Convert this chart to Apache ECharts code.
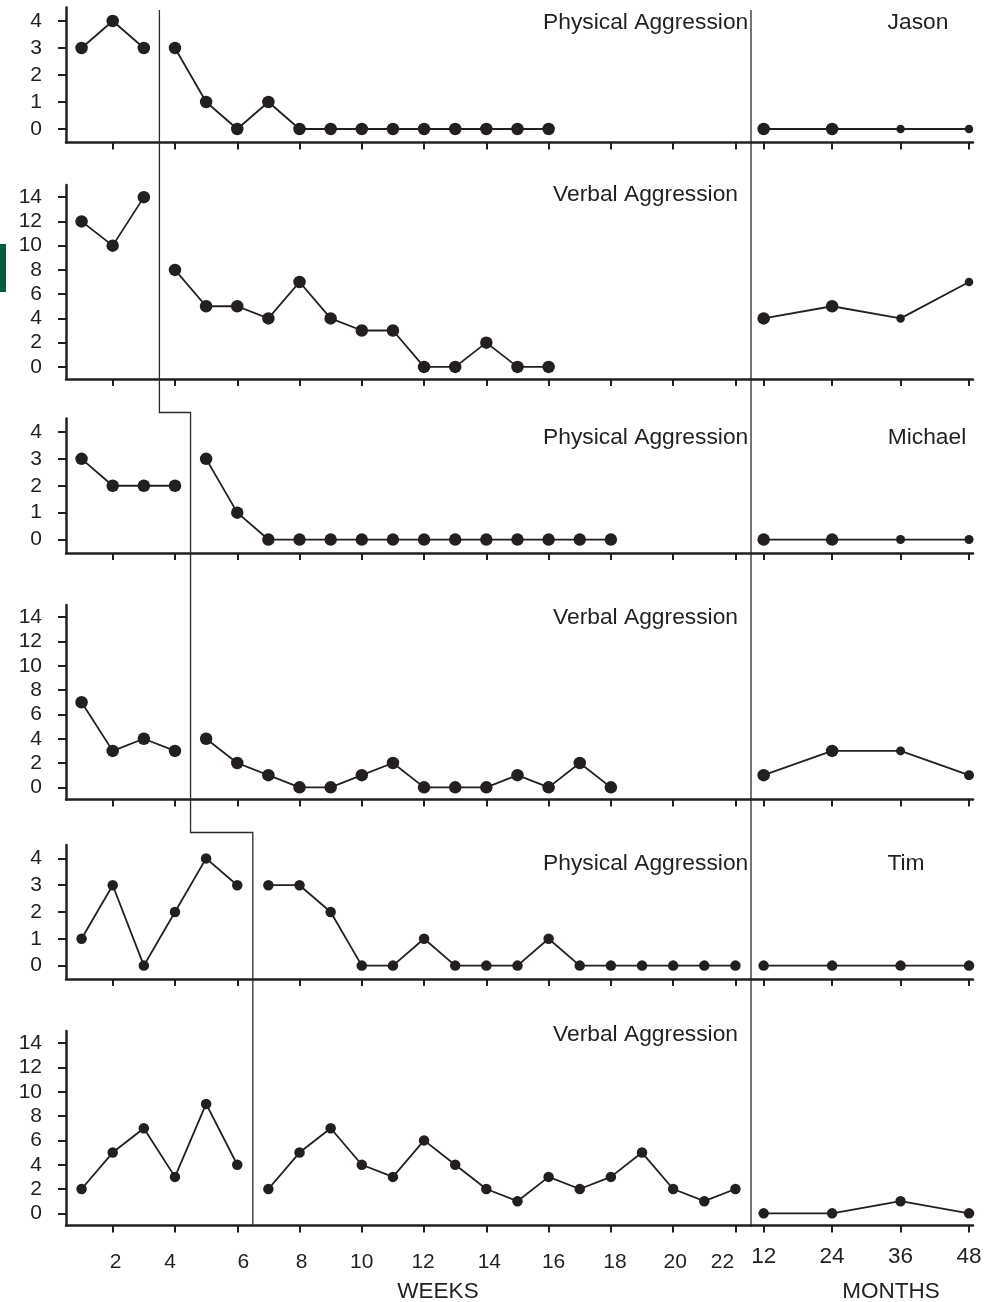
<!DOCTYPE html>
<html><head><meta charset="utf-8">
<script src="https://cdn.jsdelivr.net/npm/echarts@6/dist/echarts.min.js"></script>
<style>html,body{margin:0;padding:0;background:#fff}#c{width:986px;height:1302px}</style>
</head><body><div id="c"></div>
<script>
// ---------------- data ----------------
const weekTicks = [2, 4, 6, 8, 10, 12, 14, 16, 18, 20, 22];
const monthTicks = [12, 24, 36, 48];
const followMonths = [12, 24, 36, 48];
const physTicks = [0, 1, 2, 3, 4];
const verbTicks = [0, 2, 4, 6, 8, 10, 12, 14];
const panelTitles = ['Physical Aggression', 'Verbal Aggression'];
const participants = ['Jason', 'Michael', 'Tim'];
const treatStartWeek = [4, 5, 7]; // first treatment week for Jason, Michael, Tim

const jasonPhysBase = [3, 4, 3];
const jasonPhysTreat = [3, 1, 0, 1, 0, 0, 0, 0, 0, 0, 0, 0, 0];
const jasonPhysFollow = [0, 0, 0, 0];
const jasonVerbBase = [12, 10, 14];
const jasonVerbTreat = [8, 5, 5, 4, 7, 4, 3, 3, 0, 0, 2, 0, 0];
const jasonVerbFollow = [4, 5, 4, 7];

const michaelPhysBase = [3, 2, 2, 2];
const michaelPhysTreat = [3, 1, 0, 0, 0, 0, 0, 0, 0, 0, 0, 0, 0, 0];
const michaelPhysFollow = [0, 0, 0, 0];
const michaelVerbBase = [7, 3, 4, 3];
const michaelVerbTreat = [4, 2, 1, 0, 0, 1, 2, 0, 0, 0, 1, 0, 2, 0];
const michaelVerbFollow = [1, 3, 3, 1];

const timPhysBase = [1, 3, 0, 2, 4, 3];
const timPhysTreat = [3, 3, 2, 0, 0, 1, 0, 0, 0, 1, 0, 0, 0, 0, 0, 0];
const timPhysFollow = [0, 0, 0, 0];
const timVerbBase = [2, 5, 7, 3, 9, 4];
const timVerbTreat = [2, 5, 7, 4, 3, 6, 4, 2, 1, 3, 2, 3, 5, 2, 1, 2];
const timVerbFollow = [0, 0, 1, 0];

// ---------------- layout / style ----------------
const INK = '#231f20';
const FONT = "'Liberation Sans', Arial, Helvetica, sans-serif";
const LEFT = 66, SPLIT = 751, RIGHT = 973;
const weekLabelShift = {2: 3, 4: -5, 6: 6, 8: 2, 10: 0, 12: -1, 14: 3, 16: 5, 18: 4, 20: 2, 22: -13};

const panels = [
  {p: 0, kind: 0, base: jasonPhysBase, treat: jasonPhysTreat, follow: jasonPhysFollow, top: 7.5, height: 135, ymin: -0.5, ymax: 4.5, ticks: physTicks, tx: 543, ty: 23, nx: 918, ny: 23, sym: 12.5, fsym: [12.5, 12.5, 8.5, 8.5]},
  {p: 0, kind: 1, base: jasonVerbBase, treat: jasonVerbTreat, follow: jasonVerbFollow, top: 185, height: 194, ymin: -1, ymax: 15, ticks: verbTicks, tx: 553, ty: 195, sym: 12.5, fsym: [12.5, 12.5, 8.5, 8.5]},
  {p: 1, kind: 0, base: michaelPhysBase, treat: michaelPhysTreat, follow: michaelPhysFollow, top: 418.5, height: 134.5, ymin: -0.5, ymax: 4.5, ticks: physTicks, tx: 543, ty: 438, nx: 927, ny: 438, sym: 12.5, fsym: [12.5, 12.5, 9, 9]},
  {p: 1, kind: 1, base: michaelVerbBase, treat: michaelVerbTreat, follow: michaelVerbFollow, top: 605, height: 194.5, ymin: -1, ymax: 15, ticks: verbTicks, tx: 553, ty: 618, sym: 12.5, fsym: [12.5, 12.5, 9, 10]},
  {p: 2, kind: 0, base: timPhysBase, treat: timPhysTreat, follow: timPhysFollow, top: 845, height: 134, ymin: -0.5, ymax: 4.5, ticks: physTicks, tx: 543, ty: 864, nx: 906, ny: 864, sym: 10.5, fsym: [10.5, 10.5, 10.5, 10.5]},
  {p: 2, kind: 1, base: timVerbBase, treat: timVerbTreat, follow: timVerbFollow, top: 1031, height: 194.5, ymin: -1, ymax: 15, ticks: verbTicks, tx: 553, ty: 1035, sym: 10.5, fsym: [10.5, 10.5, 10.5, 10.5]}
];

const grid = [], xAxis = [], yAxis = [], series = [];
const richWeeks = {};
weekTicks.forEach(w => {
  const s = weekLabelShift[w] || 0;
  richWeeks['w' + w] = {fontSize: 21, fontFamily: FONT, color: INK,
    padding: [0, s < 0 ? -2 * s : 0, 0, s > 0 ? 2 * s : 0]};
});

panels.forEach((pn, i) => {
  const last = i === panels.length - 1;
  grid.push({left: LEFT, top: pn.top, width: SPLIT - LEFT, height: pn.height, outerBoundsMode: 'none', containLabel: false});
  grid.push({left: SPLIT, top: pn.top, width: RIGHT - SPLIT, height: pn.height, outerBoundsMode: 'none', containLabel: false});
  const axisLine = {show: true, onZero: false, lineStyle: {color: INK, width: 2.5}};
  xAxis.push({
    type: 'value', gridIndex: 2 * i, min: 0.5, max: 22.5,
    axisLine, splitLine: {show: false},
    axisTick: {show: true, customValues: weekTicks, length: 7, lineStyle: {color: INK, width: 2}},
    axisLabel: {show: last, customValues: weekTicks, margin: 26, fontSize: 21, fontFamily: FONT, color: INK,
      formatter: v => '{w' + v + '|' + v + '}', rich: richWeeks},
    name: last ? 'WEEKS' : '', nameLocation: 'middle', nameGap: 55,
    nameTextStyle: {fontSize: 22.5, fontFamily: FONT, color: INK, padding: [0, 0, 0, 59]}
  });
  xAxis.push({
    type: 'value', gridIndex: 2 * i + 1, min: 9.78, max: 48.7,
    axisLine, splitLine: {show: false},
    axisTick: {show: true, customValues: monthTicks, length: 7, lineStyle: {color: INK, width: 2}},
    axisLabel: {show: last, customValues: monthTicks, margin: 20, fontSize: 22.5, fontFamily: FONT, color: INK},
    name: last ? 'MONTHS' : '', nameLocation: 'middle', nameGap: 55,
    nameTextStyle: {fontSize: 22.5, fontFamily: FONT, color: INK, padding: [0, 0, 0, 58]}
  });
  yAxis.push({
    type: 'value', gridIndex: 2 * i, min: pn.ymin, max: pn.ymax,
    axisLine: {show: true, onZero: false, lineStyle: {color: INK, width: 2.5}},
    splitLine: {show: false},
    axisTick: {show: true, customValues: pn.ticks, length: 8, lineStyle: {color: INK, width: 2}},
    axisLabel: {show: true, customValues: pn.ticks, margin: 24, fontSize: 21, fontFamily: FONT, color: INK}
  });
  yAxis.push({type: 'value', gridIndex: 2 * i + 1, min: pn.ymin, max: pn.ymax, show: false, splitLine: {show: false}});

  const start = treatStartWeek[pn.p];
  const lineStyle = {color: INK, width: 1.8};
  const common = {type: 'line', symbol: 'circle', lineStyle, itemStyle: {color: INK}, silent: true, animation: false, z: 3};
  series.push(Object.assign({}, common, {xAxisIndex: 2 * i, yAxisIndex: 2 * i, symbolSize: pn.sym,
    data: pn.base.map((v, k) => [1 + k, v])}));
  series.push(Object.assign({}, common, {xAxisIndex: 2 * i, yAxisIndex: 2 * i, symbolSize: pn.sym,
    data: pn.treat.map((v, k) => [start + k, v])}));
  series.push(Object.assign({}, common, {xAxisIndex: 2 * i + 1, yAxisIndex: 2 * i + 1,
    symbolSize: (val, params) => pn.fsym[params.dataIndex],
    data: pn.follow.map((v, k) => [followMonths[k], v])}));
});

const chart = echarts.init(document.getElementById('c'), null, {renderer: 'canvas'});
chart.setOption({backgroundColor: '#fff', animation: false, grid, xAxis, yAxis, series});

// ------------- phase-change lines and texts -------------
const px = w => chart.convertToPixel({xAxisIndex: 0}, w);
const xs = treatStartWeek.map(w => px(w - 0.5));
const topY = panels[0].top + 2.5;
const step1 = panels[2].top - 6;
const step2 = panels[4].top - 12.5;
const botY = panels[5].top + panels[5].height;
const followX = px(22.5);

const graphic = [
  {type: 'polyline', silent: true, z: 10,
    shape: {points: [[xs[0], topY], [xs[0], step1], [xs[1], step1], [xs[1], step2], [xs[2], step2], [xs[2], botY]]},
    style: {stroke: '#2b2b2b', lineWidth: 1.3, fill: null}},
  {type: 'line', silent: true, z: 10, shape: {x1: followX, y1: topY, x2: followX, y2: botY},
    style: {stroke: '#2b2b2b', lineWidth: 1.3}},
  {type: 'rect', silent: true, shape: {x: 0, y: 244, width: 6, height: 48}, style: {fill: '#005f41'}}
];
panels.forEach(pn => {
  graphic.push({type: 'text', silent: true, x: pn.tx, y: pn.ty,
    style: {text: panelTitles[pn.kind], fill: INK, font: '22.8px ' + FONT, align: 'left', verticalAlign: 'middle'}});
  if (pn.nx) {
    graphic.push({type: 'text', silent: true, x: pn.nx, y: pn.ny,
      style: {text: participants[pn.p], fill: INK, font: '22.8px ' + FONT, align: 'center', verticalAlign: 'middle'}});
  }
});
chart.setOption({graphic});
</script>
</body></html>
